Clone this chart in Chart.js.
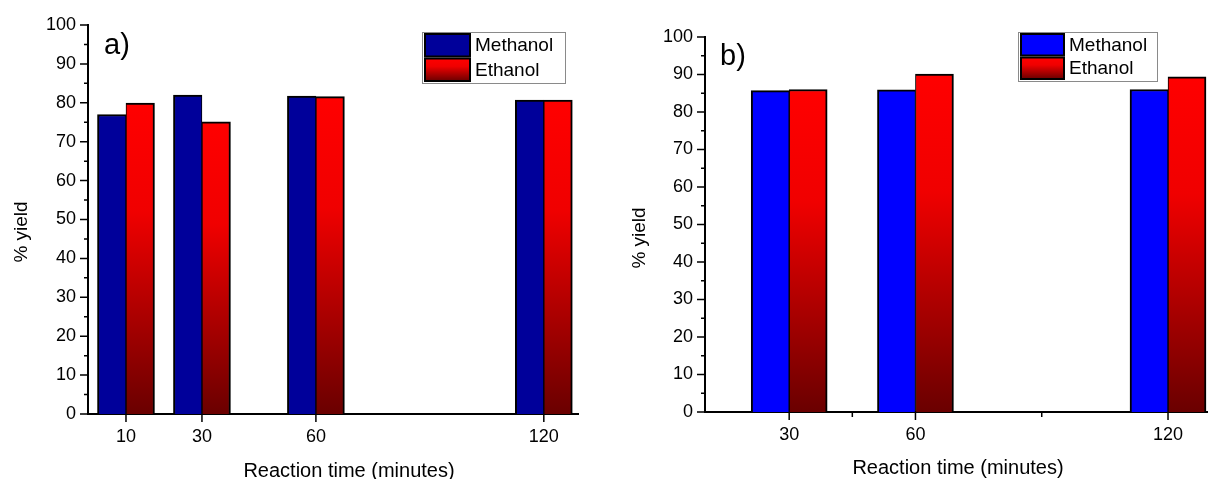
<!DOCTYPE html>
<html>
<head>
<meta charset="utf-8">
<script src="https://cdn.jsdelivr.net/npm/chart.js@4.4.1/dist/chart.umd.min.js"></script>
<style>
  html, body { margin: 0; padding: 0; background: #fff; }
  #wrap { position: relative; width: 1208px; height: 479px; }
  #cA { position: absolute; left: 0; top: 0; }
  #cB { position: absolute; left: 600px; top: 0; }
</style>
</head>
<body>
<div id="wrap">
  <canvas id="cA" width="600" height="479"></canvas>
  <canvas id="cB" width="608" height="479"></canvas>
</div>
<script>
// panel a) data
const timesA = [10, 30, 60, 120]
const methanolA = [77.0, 82.0, 81.7, 80.7]
const ethanolA = [79.9, 75.1, 81.6, 80.7]

// panel b) data
const timesB = [30, 60, 120]
const methanolB = [85.7, 85.9, 86.0]
const ethanolB = [86.0, 90.1, 89.4]

// axis ticks
const yTicks = [0, 10, 20, 30, 40, 50, 60, 70, 80, 90, 100]
const yMinor = [5, 15, 25, 35, 45, 55, 65, 75, 85, 95]
const xTicksA = [10, 30, 60, 120]
const xTicksB = [30, 60, 120]
const xMinorB = [45, 90]

const seriesNames = ['Methanol', 'Ethanol']
const xTitle = 'Reaction time (minutes)'
const yTitle = '% yield'

const fontFamily = '"Liberation Sans", Arial, sans-serif'

function redGradient(c, top, bottom) {
	const g = c.createLinearGradient(0, top, 0, bottom)
	g.addColorStop(0, '#ff0000')
	g.addColorStop(0.35, '#f00000')
	g.addColorStop(1, '#6a0000')
	return g
}

// ethanol bars fade from red to dark red
function redFade(ctx) {
	const chart = ctx.chart
	const yScale = chart.scales.y
	if (!yScale || ctx.type !== 'data' || !ctx.raw) return '#d00000'
	const top = yScale.getPixelForValue(ctx.raw.y)
	const bottom = yScale.getPixelForValue(0)
	if (!isFinite(top) || !isFinite(bottom) || bottom <= top) return '#d00000'
	return redGradient(chart.ctx, top, bottom)
}

// major / minor tick marks drawn by hand
const tickMarks = {
	id: 'tickMarks',
	afterDraw(chart, args, o) {
		const c = chart.ctx
		const x = chart.scales.x, y = chart.scales.y
		const left = chart.chartArea.left, bottom = chart.chartArea.bottom
		c.save()
		c.strokeStyle = '#000'
		c.lineWidth = 1.5
		c.beginPath()
		yTicks.forEach(v => { const p = y.getPixelForValue(v); c.moveTo(left - 8, p); c.lineTo(left, p) })
		yMinor.forEach(v => { const p = y.getPixelForValue(v); c.moveTo(left - 4, p); c.lineTo(left, p) })
		o.major.forEach(v => { const p = x.getPixelForValue(v); c.moveTo(p, bottom); c.lineTo(p, bottom + 8) })
		o.minor.forEach(v => { const p = x.getPixelForValue(v); c.moveTo(p, bottom); c.lineTo(p, bottom + 5) })
		c.stroke()
		c.restore()
	}
}

// boxed legend inside the plot
const boxLegend = {
	id: 'boxLegend',
	afterDraw(chart, args, o) {
		const c = chart.ctx
		c.save()
		c.fillStyle = '#fff'
		c.fillRect(o.x, o.y, o.w, o.h)
		c.strokeStyle = '#8a8a8a'
		c.lineWidth = 1
		c.strokeRect(o.x + 0.5, o.y + 0.5, o.w, o.h)
		c.font = '19px ' + fontFamily
		c.textBaseline = 'middle'
		c.textAlign = 'left'
		chart.data.datasets.forEach((ds, i) => {
			const sy = o.y + 2 + i * o.row
			const sh = o.row - 2
			c.fillStyle = i === 0 ? o.blue : redGradient(c, sy, sy + sh)
			c.fillRect(o.x + 3, sy, o.sw, sh)
			c.strokeStyle = '#000'
			c.lineWidth = 2
			c.strokeRect(o.x + 3, sy, o.sw, sh)
			c.fillStyle = '#000'
			c.fillText(ds.label, o.x + o.sw + 8, sy + sh / 2 + 1)
		})
		c.restore()
	}
}

// panel tag and axis titles
const panelText = {
	id: 'panelText',
	afterDraw(chart, args, o) {
		const c = chart.ctx
		c.save()
		c.fillStyle = '#000'
		c.textBaseline = 'alphabetic'
		c.textAlign = 'left'
		c.font = '29px ' + fontFamily
		c.fillText(o.tag, o.tagX, o.tagY)
		c.textAlign = 'center'
		c.font = '20px ' + fontFamily
		c.fillText(xTitle, o.xtX, o.xtY)
		c.translate(o.ytX, o.ytY)
		c.rotate(-Math.PI / 2)
		c.textBaseline = 'middle'
		c.font = '19px ' + fontFamily
		c.fillText(yTitle, 0, 0)
		c.restore()
	}
}

function drawPanel(id, p) {
	const canvas = document.getElementById(id)
	new Chart(canvas, {
		type: 'bar',
		data: {
			datasets: [{
				label: seriesNames[0],
				data: p.times.map((t, i) => ({ x: t, y: p.methanol[i] })),
				backgroundColor: p.blue,
				borderColor: '#000',
				borderWidth: { top: 2, left: 2, right: 1, bottom: 0 },
				borderSkipped: false,
				barThickness: p.barW
			}, {
				label: seriesNames[1],
				data: p.times.map((t, i) => ({ x: t, y: p.ethanol[i] })),
				backgroundColor: redFade,
				borderColor: '#000',
				borderWidth: { top: 2, left: 1, right: 2, bottom: 0 },
				borderSkipped: false,
				barThickness: p.barW
			}]
		},
		options: {
			responsive: false,
			animation: false,
			layout: { padding: { left: 0, top: p.top, right: p.right, bottom: 0 } },
			plugins: {
				legend: { display: false },
				tooltip: { enabled: false },
				tickMarks: { major: p.xTicks, minor: p.xMinor },
				boxLegend: p.legend,
				panelText: p.text
			},
			scales: {
				x: {
					type: 'linear',
					min: p.xMin,
					max: p.xMax,
					offset: false,
					grid: { display: false, drawTicks: false },
					border: { display: true, color: '#000', width: 2 },
					afterBuildTicks: s => { s.ticks = p.xTicks.map(v => ({ value: v })) },
					afterFit: s => { s.height = p.xHeight },
					ticks: { color: '#000', padding: 12, maxRotation: 0, autoSkip: false, font: { family: fontFamily, size: 18 } }
				},
				y: {
					min: 0,
					max: 100,
					grid: { display: false, drawTicks: false },
					border: { display: true, color: '#000', width: 2 },
					afterBuildTicks: s => { s.ticks = yTicks.map(v => ({ value: v })) },
					afterFit: s => { s.width = p.yWidth },
					ticks: { color: '#000', padding: 12, font: { family: fontFamily, size: 18 } }
				}
			}
		},
		plugins: [tickMarks, boxLegend, panelText]
	})
}

drawPanel('cA', {
	times: timesA, methanol: methanolA, ethanol: ethanolA,
	blue: '#00009a', barW: 28.5,
	xMin: 0, xMax: 129, xTicks: xTicksA, xMinor: [],
	top: 25, right: 22, xHeight: 65, yWidth: 88,
	legend: { x: 422, y: 32, w: 143, h: 51, row: 24.5, sw: 45, blue: '#00009a' },
	text: { tag: 'a)', tagX: 104, tagY: 54, xtX: 349, xtY: 477, ytX: 22, ytY: 232 }
})

drawPanel('cB', {
	times: timesB, methanol: methanolB, ethanol: ethanolB,
	blue: '#0000ff', barW: 38,
	xMin: 10, xMax: 129.5, xTicks: xTicksB, xMinor: xMinorB,
	top: 37, right: 0, xHeight: 67, yWidth: 105,
	legend: { x: 418, y: 32, w: 139, h: 49, row: 23.5, sw: 43, blue: '#0000ff' },
	text: { tag: 'b)', tagX: 120, tagY: 65, xtX: 358, xtY: 474, ytX: 40, ytY: 238 }
})
</script>
</body>
</html>
